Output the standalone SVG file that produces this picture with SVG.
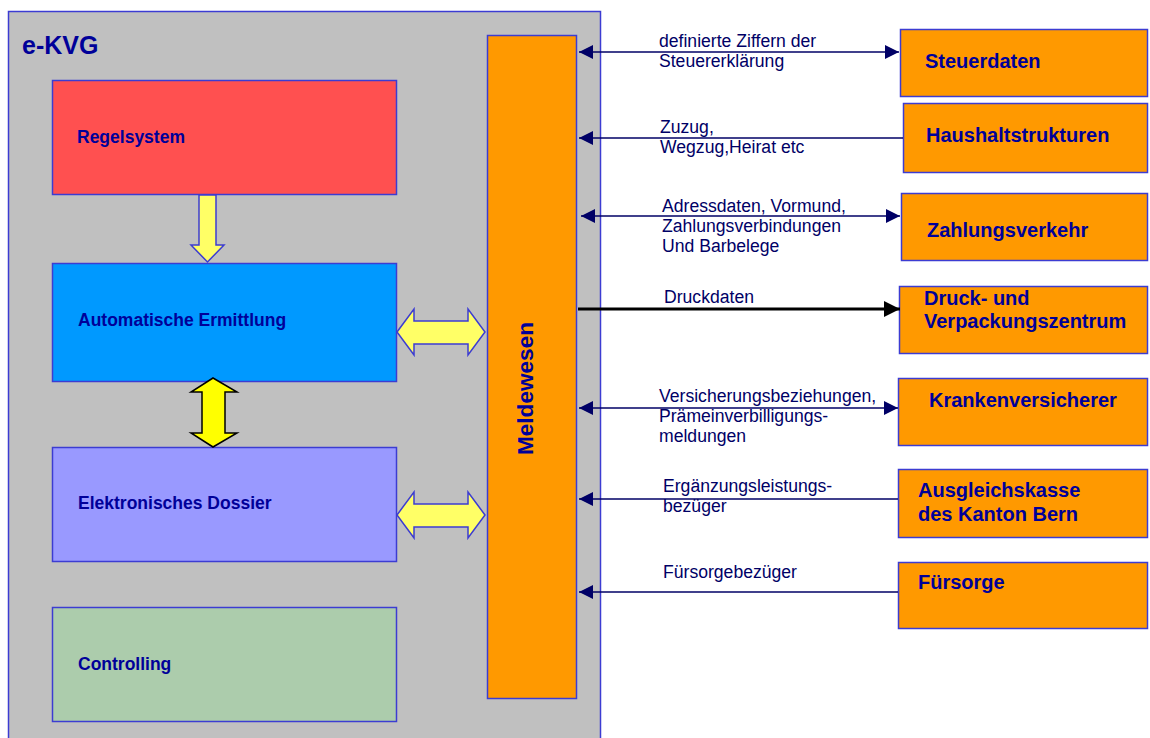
<svg xmlns="http://www.w3.org/2000/svg" width="1150" height="738" viewBox="0 0 1150 738">
<style>
.box{stroke:#3c3cd2;stroke-width:1.5}
.in{font-family:"Liberation Sans",Arial,sans-serif;font-weight:bold;font-size:17.5px;fill:#000099}
.ext{font-family:"Liberation Sans",Arial,sans-serif;font-weight:bold;font-size:20px;fill:#000099}
.lbl{font-family:"Liberation Sans",Arial,sans-serif;font-size:17.6px;fill:#000066}
.con{stroke:#000066;stroke-width:1.5;fill:none}
.ya{fill:#FFFF66;stroke:#3c3cd2;stroke-width:1.5}
</style>
<defs>
<marker id="ah" viewBox="0 0 14 14" refX="14" refY="7" markerWidth="14" markerHeight="14" markerUnits="userSpaceOnUse" orient="auto-start-reverse">
<path d="M0,0 L14,7 L0,14 Z" fill="#000066"/>
</marker>
<marker id="ahb" viewBox="0 0 16 16" refX="16" refY="8" markerWidth="16" markerHeight="16" markerUnits="userSpaceOnUse" orient="auto">
<path d="M0,0 L16,8 L0,16 Z" fill="#000000"/>
</marker>
</defs>
<rect width="1150" height="738" fill="#ffffff"/>
<g id="ekvg">
<rect class="box" x="8.5" y="11.5" width="592" height="740" fill="#C0C0C0"/>
<text x="22" y="54" font-family="Liberation Sans, Arial, sans-serif" font-weight="bold" font-size="25" fill="#000099">e-KVG</text>
</g>
<g id="regelsystem">
<rect class="box" x="52.5" y="80.5" width="344" height="114" fill="#FF5050"/>
<text class="in" x="77" y="143">Regelsystem</text>
</g>
<g id="automatische">
<rect class="box" x="52.5" y="263.5" width="344" height="118" fill="#0099FF"/>
<text class="in" x="78" y="326">Automatische Ermittlung</text>
</g>
<g id="dossier">
<rect class="box" x="52.5" y="447.5" width="344" height="114" fill="#9999FF"/>
<text class="in" x="78" y="509">Elektronisches Dossier</text>
</g>
<g id="controlling">
<rect class="box" x="52.5" y="607.5" width="344" height="114" fill="#ACCCAC"/>
<text class="in" x="78" y="670">Controlling</text>
</g>
<g id="meldewesen">
<rect class="box" x="487.5" y="35.5" width="89" height="663" fill="#FF9900"/>
<text transform="translate(533,388.5) rotate(-90)" text-anchor="middle" font-family="Liberation Sans, Arial, sans-serif" font-weight="bold" font-size="22.6" fill="#000099">Meldewesen</text>
</g>
<g id="steuerdaten">
<rect class="box" x="900.5" y="29.5" width="247" height="67" fill="#FF9900"/>
<text class="ext" x="925" y="68">Steuerdaten</text>
</g>
<g id="haushalt">
<rect class="box" x="903.5" y="103.5" width="244" height="69" fill="#FF9900"/>
<text class="ext" x="926" y="142">Haushaltstrukturen</text>
</g>
<g id="zahlung">
<rect class="box" x="901.5" y="193.5" width="246" height="67" fill="#FF9900"/>
<text class="ext" x="927" y="237">Zahlungsverkehr</text>
</g>
<g id="druck">
<rect class="box" x="899.5" y="286.5" width="248" height="67" fill="#FF9900"/>
<text class="ext" x="924" y="305">Druck- und</text>
<text class="ext" x="924" y="328">Verpackungszentrum</text>
</g>
<g id="kranken">
<rect class="box" x="898.5" y="378.5" width="249" height="67" fill="#FF9900"/>
<text class="ext" x="929" y="407">Krankenversicherer</text>
</g>
<g id="ausgleich">
<rect class="box" x="898.5" y="469.5" width="249" height="68" fill="#FF9900"/>
<text class="ext" x="918" y="497">Ausgleichskasse</text>
<text class="ext" x="918" y="521">des Kanton Bern</text>
</g>
<g id="fuersorge">
<rect class="box" x="898.5" y="562.5" width="249" height="66" fill="#FF9900"/>
<text class="ext" x="918" y="589">Fürsorge</text>
</g>
<g id="connectors">
<path class="ya" d="M199,195 L216,195 L216,245 L224,245 L207.5,262 L191,245 L199,245 Z"/>
<path class="ya" d="M397,332 L414,309 L414,321 L468,321 L468,309 L485,332 L468,355 L468,344 L414,344 L414,355 Z"/>
<path class="ya" d="M397,515 L414,492 L414,504 L468,504 L468,492 L485,515 L468,538 L468,527 L414,527 L414,538 Z"/>
<path d="M213,378 L237,392 L225,392 L225,433 L237,433 L213,447 L191,433 L202,433 L202,392 L191,392 Z" fill="#FFFF00" stroke="#000000" stroke-width="1.5"/>
<line class="con" x1="579" y1="52" x2="899" y2="52" marker-start="url(#ah)" marker-end="url(#ah)"/>
<line class="con" x1="903" y1="138" x2="579" y2="138" marker-end="url(#ah)"/>
<line class="con" x1="581" y1="216" x2="900" y2="216" marker-start="url(#ah)" marker-end="url(#ah)"/>
<line x1="578" y1="309" x2="900" y2="309" stroke="#000000" stroke-width="3" marker-end="url(#ahb)"/>
<line class="con" x1="579" y1="408" x2="898" y2="408" marker-start="url(#ah)" marker-end="url(#ah)"/>
<line class="con" x1="898" y1="499" x2="579" y2="499" marker-end="url(#ah)"/>
<line class="con" x1="898" y1="592" x2="579" y2="592" marker-end="url(#ah)"/>
<text class="lbl" x="659" y="47">definierte Ziffern der</text>
<text class="lbl" x="659" y="67">Steuererklärung</text>
<text class="lbl" x="660" y="133">Zuzug,</text>
<text class="lbl" x="660" y="153">Wegzug,Heirat etc</text>
<text class="lbl" x="662" y="212">Adressdaten, Vormund,</text>
<text class="lbl" x="662" y="232">Zahlungsverbindungen</text>
<text class="lbl" x="662" y="252">Und Barbelege</text>
<text class="lbl" x="664" y="303">Druckdaten</text>
<text class="lbl" x="659" y="402">Versicherungsbeziehungen,</text>
<text class="lbl" x="659" y="422">Prämeinverbilligungs-</text>
<text class="lbl" x="659" y="442">meldungen</text>
<text class="lbl" x="663" y="492">Ergänzungsleistungs-</text>
<text class="lbl" x="663" y="512">bezüger</text>
<text class="lbl" x="663" y="578">Fürsorgebezüger</text>
</g>
</svg>
